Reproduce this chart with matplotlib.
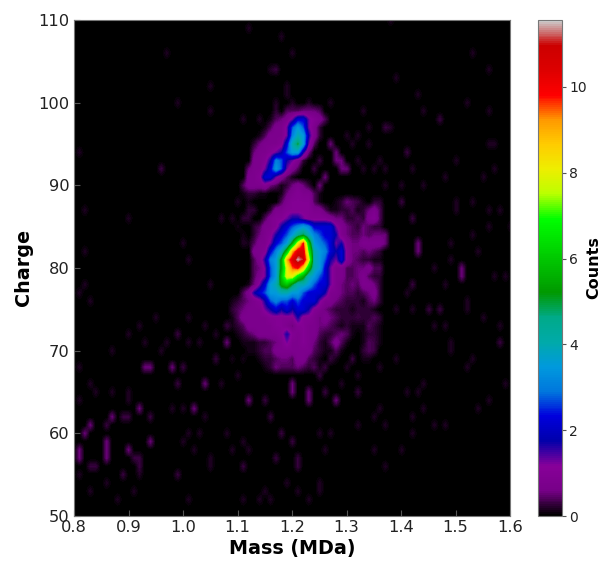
import numpy as np
import matplotlib
matplotlib.use("Agg")
import matplotlib.pyplot as plt

# histogram bins
mass_bins = np.arange(0.80, 1.605, 0.01)
charge_bins = np.arange(50, 111)

# core of the map, one char per 0.01 MDa from 1.09 MDa, rows from charge 99 down to 68
levels = [0, .12, .25, .4, .55, .8, 1.0, 1.3, 1.7, 2.2, 2.7, 3.1, 3.5, 4, 4.5, 5, 5.5, 6,
          6.5, 7, 7.5, 8, 8.5, 9, 9.5, 10, 10.5, 11, 11.5]
level_chars = ".123456789abcdefghijklmnopqrs"
core_mass_start = 1.09
core_charge_start = 99
core_rows = [
    "........2.3334443...........",
    ".......13457997653..........",
    "......13557aca752...........",
    ".....135557bdc852...........",
    "....2455569dfc73............",
    "....455678acc84.............",
    "....5568ba8752..............",
    "...45579ca753...............",
    "...556997531................",
    "..3555643124542.............",
    "..12211..14565531...........",
    "...1.....35666631..122321.22",
    "...22..255666665531122312453",
    "..22..3566788766665442232563",
    ".1..2355689abcb9999754324322",
    "..1.245689acefdba99854334344",
    "...135579acglphcba9785445555",
    "....5569bdhnqqjdcb9896443432",
    "....358bcgnqsrldca8796432211",
    "....347acglopmhdc97553344533",
    "....357achlligdca97553345322",
    "...1479cdghfddca997543435542",
    "..3589accddcca99985543323452",
    "1234568abaa9a999755432221342",
    "234555789898998654 32221 2221".replace(" ", ""),
    "1355555666668665454322212232",
    "1235555566546655443212111321",
    ".1234555568656553223431.1221",
    "..11122345755654213531..1321",
    "...112335555555321131...231.",
    "1.1..122344355321.11....11..",
    "......12333343231...........",
]

# isolated low-count cells outside the core
dim_mass = [1.12, 1.18, 1.20, .97, 1.16, 1.05, 1.19, 1.19, .99, 1.05, 1.17, 1.11, 1.14, .81,
            1.38, 1.53, 1.56, 1.39, 1.43, 1.27, 1.23, 1.20, 1.33, 1.44, 1.52, 1.56, 1.38, 1.34,
            1.30, 1.32, 1.34, 1.56, 1.57, 1.50, 1.57, 1.48, 1.55, 1.44, 1.42, 1.40, 1.37, 1.36,
            1.37, 1.35, 1.32, 1.31, 1.33, 1.50, 1.50, 1.53, 1.56, 1.58, 1.56, 1.53, 1.60, 1.54,
            1.49, 1.49, 1.46, 1.57, 1.59, 1.48, 1.41, 1.52, 1.52, 1.39, 1.42, 1.55, 1.58, 1.46,
            1.48, 1.49, .82, .90, 1.07, 1.09, 1.10, .82, 1.00, 1.01, 1.11, .82, .81, .83, 1.05,
            .95, .92, 1.01, 1.04, .90, .93, .97, .96, 1.01, 1.03, 1.06, .87, .81, .83, .84, .87,
            .90, .90, 1.07, 1.10, .81, .94, .98, 1.00, 1.04, 1.01, 1.00, 1.03, 1.08, 1.11, .86,
            1.02, 1.05, 1.05, 1.09, 1.12, .92, .81, .86, .83, 1.19, 1.25, 1.21, .91, .88, 1.11,
            1.01, 1.15, 1.14, 1.16, 1.23, 1.25, 1.39, 1.53, 1.52, 1.44, 1.29, 1.41, 1.43, 1.44,
            1.36, 1.35, 1.59, 1.56, 1.54, 1.42, 1.42, 1.46, 1.48, 1.32, 1.37, 1.27, 1.25, 1.26,
            1.35, 1.40, 1.37, 1.32, 1.30, 1.36, 1.49, 1.39]
dim_charge = [109, 108, 106, 106, 104, 102, 102, 101, 100, 99, 100, 98, 98, 94,
              110, 106, 104, 103, 101, 100, 100, 100, 99, 99, 100, 99, 97, 97,
              96, 96, 95, 95, 95, 93, 92, 91, 91, 90, 92, 90, 90, 93,
              92, 92, 93, 95, 92, 88, 87, 88, 87, 87, 85, 84, 85, 82,
              83, 81, 80, 79, 79, 78, 77, 76, 75, 75, 75, 74, 73, 73,
              73, 71, 87, 86, 86, 86, 88, 82, 83, 81, 83, 78, 77, 76, 78,
              74, 73, 74, 73, 72, 71, 71, 70, 71, 71, 72, 70, 68, 66, 65, 65,
              65, 64, 66, 67, 64, 62, 63, 63, 62, 60, 59, 60, 60, 59, 61,
              58, 57, 56, 58, 58, 55, 55, 54, 53, 54, 54, 53, 53, 52, 52,
              52, 53, 52, 52, 52, 53, 69, 69, 68, 66, 66, 65, 65, 63,
              63, 62, 66, 64, 63, 62, 60, 61, 61, 61, 61, 60, 60, 58,
              58, 58, 56, 67, 68, 68, 70, 69]

mid_mass = [1.17, .96, 1.47, 1.37, 1.41, 1.25, 1.30, 1.32, 1.42, 1.40, 1.43, 1.51, 1.42, 1.45,
            1.47, 1.58, 1.35, 1.32, 1.06, 1.08, .99, 1.00, 1.06, .99, 1.02, .94, .90, .92, .89,
            .94, 1.15, 1.16, .86, 1.18, 1.20, 1.21, 1.21, .84, .83, .91, .92, 1.11, 1.17, .89,
            .99, 1.32, 1.26, 1.28, 1.35, 1.31, 1.27, 1.26, 1.25, 1.25, 1.24]
mid_charge = [104, 92, 98, 97, 94, 93, 92, 88, 86, 88, 83, 80, 78, 75,
              75, 71, 71, 74, 69, 73, 72, 68, 69, 66, 63, 62, 62, 57, 62,
              62, 64, 62, 61, 60, 59, 57, 56, 56, 56, 57, 56, 56, 57, 55,
              55, 65, 65, 64, 70, 69, 69, 68, 67, 93, 92]

bright_mass = [1.27, 1.28, 1.29, 1.29, 1.28, 1.30, 1.21, 1.25, 1.26, 1.30, 1.37, 1.37, 1.43, 1.43,
               1.51, 1.51, .94, .93, .98, 1.04, .87, .92, .83, .82, .94, .90, .81, .81, .86, .86,
               .86, 1.20, 1.20, 1.23, 1.23, 1.21, 1.17, 1.12, 1.02, 1.08, 1.28]
bright_charge = [95, 93, 92, 93, 94, 92, 90, 90, 91, 88, 83, 84, 83, 82,
                 79, 80, 68, 68, 68, 66, 62, 63, 61, 60, 59, 58, 58, 57, 58, 59,
                 57, 65, 66, 64, 65, 68, 68, 64, 63, 71, 64]

dim_count = 0.18
mid_count = 0.3
bright_count = 0.55

tick_mass = [0.8, 0.9, 1.0, 1.1, 1.2, 1.3, 1.4, 1.5, 1.6]
tick_charge = [50, 60, 70, 80, 90, 100, 110]
tick_counts = [0, 2, 4, 6, 8, 10]
max_counts = 11.56

# build the grid
counts = np.zeros((len(charge_bins), len(mass_bins)))
i0 = int(round((core_mass_start - mass_bins[0]) / 0.01))
for r, row in enumerate(core_rows):
    j = core_charge_start - r - charge_bins[0]
    for c, ch in enumerate(row):
        counts[j, i0 + c] = levels[level_chars.index(ch)]

for ms, cs, v in [(dim_mass, dim_charge, dim_count),
                  (mid_mass, mid_charge, mid_count),
                  (bright_mass, bright_charge, bright_count)]:
    for m, q in zip(ms, cs):
        i = int(round((m - mass_bins[0]) / 0.01))
        j = int(q - charge_bins[0])
        counts[j, i] = max(counts[j, i], v)

W, H = 606, 562
fig = plt.figure(figsize=(W / 100, H / 100), dpi=100)
ax = fig.add_axes([74 / W, 1 - 516 / H, 436 / W, 496 / H])
cax = fig.add_axes([538 / W, 1 - 516 / H, 24 / W, 496 / H])

im = ax.imshow(counts, origin="lower", aspect="auto", cmap="nipy_spectral",
               vmin=0, vmax=max_counts, interpolation="bilinear",
               extent=[0.795, 1.605, 49.5, 110.5])
ax.set_xlim(0.8, 1.6)
ax.set_ylim(50, 110)
ax.set_xticks(tick_mass)
ax.set_yticks(tick_charge)
ax.tick_params(labelsize=11.7, length=4, width=0.8, direction="in", color="#555555",
               labelcolor="#222222", pad=3)
ax.set_xlabel("Mass (MDa)", fontsize=13.8, fontweight="bold", labelpad=3)
ax.set_ylabel("Charge", fontsize=13.8, fontweight="bold", labelpad=4)
for s in ax.spines.values():
    s.set_color("#777777")

cb = fig.colorbar(im, cax=cax)
cb.set_ticks(tick_counts)
cb.ax.tick_params(labelsize=10, length=3, width=0.8, color="#555555", labelcolor="#222222", pad=2)
cb.set_label("Counts", fontsize=11.5, fontweight="bold", labelpad=0)
cb.outline.set_edgecolor("#777777")

fig.savefig("out.png", dpi=100)
